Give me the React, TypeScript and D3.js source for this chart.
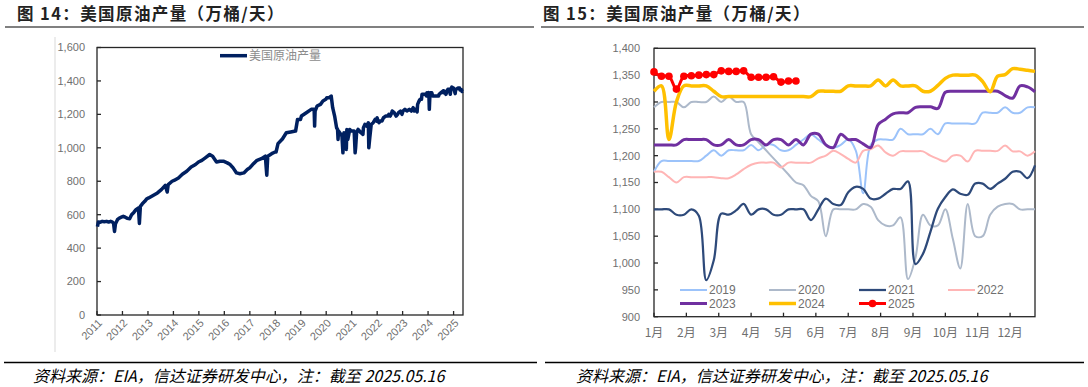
import React from 'react';
import * as d3 from 'd3';

// ---------- Left chart data (万桶/天) ----------
const prodDates = [
  '2011-01-07','2011-01-21','2011-02-18','2011-03-18','2011-04-15','2011-05-20','2011-06-17','2011-07-15','2011-08-12','2011-08-26','2011-09-09','2011-09-23','2011-10-21','2011-11-18','2011-12-16',
  '2012-01-13','2012-02-10','2012-03-09','2012-04-13','2012-05-11','2012-06-15','2012-07-13','2012-08-17','2012-08-31','2012-09-14','2012-10-12','2012-11-16','2012-12-14',
  '2013-01-11','2013-03-15','2013-05-17','2013-07-12','2013-09-06','2013-10-04','2013-10-18','2013-12-13',
  '2014-01-10','2014-03-14','2014-05-09','2014-07-11','2014-09-12','2014-11-14','2014-12-26',
  '2015-02-13','2015-04-03','2015-06-05','2015-07-17','2015-09-11','2015-10-30','2015-12-18',
  '2016-02-12','2016-03-25','2016-05-06','2016-06-24','2016-08-12','2016-10-07','2016-11-25','2016-12-30',
  '2017-02-10','2017-04-14','2017-06-16','2017-08-11','2017-09-01','2017-09-15','2017-11-10','2017-12-29',
  '2018-01-12','2018-02-09','2018-04-13','2018-06-08','2018-08-10','2018-10-19','2018-11-16','2018-12-28',
  '2019-01-11','2019-03-22','2019-05-31','2019-07-12','2019-07-19','2019-07-26','2019-08-23','2019-10-11','2019-11-15','2019-12-27',
  '2020-01-10','2020-02-14','2020-03-13','2020-04-03','2020-05-01','2020-05-29','2020-06-12','2020-06-19','2020-06-26','2020-08-14','2020-08-28','2020-09-11','2020-10-02','2020-10-16','2020-10-23','2020-11-06','2020-12-04','2020-12-25',
  '2021-01-08','2021-02-05','2021-02-19','2021-02-26','2021-03-12','2021-04-02','2021-05-14','2021-06-11','2021-06-18','2021-07-09','2021-08-06','2021-08-27','2021-09-03','2021-09-17','2021-10-08','2021-11-05','2021-12-03','2021-12-24','2021-12-31',
  '2022-01-07','2022-01-28','2022-02-11','2022-03-11','2022-04-01','2022-05-06','2022-06-03','2022-06-17','2022-07-08','2022-07-29','2022-08-05','2022-09-02','2022-09-30','2022-10-21','2022-11-04','2022-12-02','2022-12-23','2022-12-30',
  '2023-01-06','2023-02-03','2023-03-03','2023-04-07','2023-05-05','2023-06-02','2023-06-16','2023-07-07','2023-07-28','2023-08-04','2023-08-25','2023-09-08','2023-09-29','2023-10-06','2023-11-24','2023-12-08','2023-12-15','2023-12-29',
  '2024-01-05','2024-01-12','2024-01-19','2024-01-26','2024-02-02','2024-02-23','2024-03-08','2024-05-31','2024-06-07','2024-07-05','2024-08-02','2024-08-09','2024-08-16','2024-09-13','2024-10-04','2024-10-11','2024-11-01','2024-11-15','2024-11-22','2024-12-06','2024-12-27',
  '2025-01-03','2025-01-24','2025-01-31','2025-03-07','2025-03-28','2025-04-04','2025-04-25','2025-05-02','2025-05-16',
];
const prodValues = [
  528,556,555,560,558,560,556,560,555,550,500,545,570,580,585,
  590,585,578,576,600,615,630,640,548,650,665,680,695,
  700,715,730,750,775,736,780,800,
  805,820,842,860,885,900,915,
  925,940,960,950,915,920,920,
  910,900,880,850,845,850,870,880,
  900,925,935,950,836,950,965,975,
  975,1025,1053,1090,1095,1100,1170,1170,
  1190,1210,1230,1230,1130,1220,1250,1260,1280,1290,
  1300,1300,1310,1240,1190,1120,1110,1050,1100,1070,970,1090,1070,990,1110,1050,1110,1100,
  1100,1100,970,1000,1090,1110,1090,1080,1120,1140,1130,1150,1000,1060,1140,1150,1170,1160,1180,
  1170,1150,1160,1160,1180,1190,1190,1200,1190,1210,1220,1210,1190,1200,1210,1220,1200,1210,
  1220,1230,1220,1230,1220,1240,1220,1230,1215,1260,1280,1290,1290,1320,1320,1310,1330,1320,
  1320,1330,1230,1300,1330,1330,1310,1310,1320,1330,1340,1330,1340,1320,1345,1350,1350,1320,1348,1363,1358,
  1356,1324,1348,1358,1358,1346,1347,1337,1339,
];
const leftYTicks = [0, 200, 400, 600, 800, 1000, 1200, 1400, 1600];
const yearTicks = [2011, 2012, 2013, 2014, 2015, 2016, 2017, 2018, 2019, 2020, 2021, 2022, 2023, 2024, 2025];

// ---------- Right chart data (weekly, 万桶/天) ----------
const monthLabels = ['1月','2月','3月','4月','5月','6月','7月','8月','9月','10月','11月','12月'];
const rightYTicks = [900, 950, 1000, 1050, 1100, 1150, 1200, 1250, 1300, 1350, 1400];
const s2019 = [1170,1190,1190,1190,1190,1190,1190,1200,1210,1200, 1210,1210,1210,1220,1210,1220,1220,1210,1210,1220, 1230,1240,1230,1220,1215,1220,1230,1210,1130,1220, 1230,1230,1230,1250,1240,1240,1240,1250,1240,1260, 1260,1260,1260,1260,1280,1280,1280,1290,1280,1280, 1290,1290];
const s2020 = [1290,1300,1300,1300,1290,1300,1300,1300,1310,1300, 1310,1300,1300,1240,1225,1210,1195,1180,1165,1150, 1145,1125,1115,1050,1100,1100,1100,1100,1110,1105, 1080,1070,1070,1085,970,1010,1090,1070,1070,1100, 1045,990,1110,1050,1050,1090,1105,1110,1110,1100, 1100,1100];
const s2021 = [1100,1100,1100,1090,1090,1100,1088,968,1005,1092, 1090,1098,1110,1090,1100,1100,1090,1090,1100,1100, 1100,1080,1100,1120,1110,1108,1132,1142,1138,1120, 1120,1129,1138,1138,1152,998,1017,1058,1101,1123, 1137,1129,1127,1148,1148,1138,1148,1157,1170,1170, 1158,1182];
const s2022 = [1170,1170,1160,1150,1160,1160,1160,1160,1160,1158, 1158,1165,1175,1183,1187,1187,1187,1178,1187,1187, 1187,1187,1195,1200,1209,1203,1194,1187,1209,1212, 1219,1206,1200,1208,1208,1208,1208,1200,1194,1189, 1200,1200,1189,1209,1209,1209,1209,1219,1208,1208, 1200,1208];
const s2023 = [1220,1220,1220,1220,1230,1230,1230,1230,1220,1220, 1230,1220,1220,1230,1230,1220,1230,1230,1220,1230, 1220,1240,1240,1220,1215,1240,1230,1230,1222,1215, 1258,1268,1278,1280,1280,1290,1291,1291,1288,1318, 1320,1320,1320,1320,1320,1320,1320,1312,1307,1330, 1328,1319];
const s2024 = [1320,1330,1230,1300,1330,1330,1330,1330,1320,1310, 1310,1310,1310,1310,1310,1310,1310,1310,1310,1310, 1310,1310,1320,1320,1320,1320,1330,1330,1330,1330, 1341,1330,1341,1330,1330,1330,1320,1320,1331,1344, 1350,1350,1350,1350,1338,1319,1348,1351,1362,1361, 1359,1357];
const s2025 = [1356,1348,1348,1324,1348,1349,1350,1351,1351,1358, 1357,1357,1358,1346,1346,1346,1347,1337,1339,1339];

const seriesNames = ['2019','2020','2021','2022','2023','2024','2025'];
const seriesData = [s2019, s2020, s2021, s2022, s2023, s2024, s2025];
const seriesColors = ['#9CC3FA','#ADB9CA','#2E4A7A','#FFB5B5','#7030A0','#FFC000','#FF0000'];
const seriesWidths = [2, 2, 2.25, 2, 3, 3.5, 3];

const NUM_FONT = '"Liberation Sans", Arial, sans-serif';
const CJK_FONT = '"Noto Sans CJK SC", "Liberation Sans", sans-serif';
const LABEL = '#6f6f6f';

export default function App() {
  const fmt = d3.format(',');

  // left chart scales
  const lx = d3.scaleTime().domain([new Date(2011, 0, 1), new Date(2025, 4, 16)]).range([97, 463]);
  const ly = d3.scaleLinear().domain([0, 1600]).range([315, 47.5]);
  const leftPts = prodDates.map((d, i) => [new Date(d + 'T00:00:00'), prodValues[i]] as [Date, number]);
  const leftLine = d3.line<[Date, number]>().x(d => lx(d[0])).y(d => ly(d[1])).curve(d3.curveLinear);

  // right chart scales
  const rx = d3.scaleLinear().domain([1, 52]).range([654, 1035]);
  const ry = d3.scaleLinear().domain([900, 1400]).range([316.7, 48.3]);
  const rLine = d3.line<number>().x((d, i) => rx(i + 1)).y(d => ry(d)).curve(d3.curveCatmullRom.alpha(0.5));
  const monthPos = monthLabels.map((_, m) => 1 + (m * 52) / 12);

  const legendCols = [680, 769, 859, 948];
  const legendRows = [290, 303.5];

  return (
    <svg width={1088} height={387} style={{ position: 'absolute', left: 0, top: 0, background: '#fff' }}>
      <rect x={0} y={0} width={1088} height={387} fill="#fff" />
      {/* titles */}
      <text x={17} y={20} fontFamily={CJK_FONT} fontWeight="bold" fontSize={16.5} fill="#222" letterSpacing={1.4}>图 14：美国原油产量（万桶/天）</text>
      <text x={543} y={20} fontFamily={CJK_FONT} fontWeight="bold" fontSize={16.5} fill="#222" letterSpacing={1.4}>图 15：美国原油产量（万桶/天）</text>
      <line x1={5} x2={534} y1={27} y2={27} stroke="#808080" strokeWidth={2} />
      <line x1={541} x2={1084} y1={27} y2={27} stroke="#808080" strokeWidth={2} />

      {/* ---------- left chart ---------- */}
      <line x1={55} x2={55} y1={37} y2={352} stroke="#d9d9d9" strokeWidth={1} />
      <rect x={97} y={47.5} width={366} height={267.5} fill="none" stroke="#262626" strokeWidth={1.3} />
      {leftYTicks.map(t => (
        <g key={'ly' + t}>
          <line x1={97} x2={101} y1={ly(t)} y2={ly(t)} stroke="#262626" strokeWidth={1.3} />
          <text x={85} y={ly(t)} dy="0.35em" textAnchor="end" fontFamily={NUM_FONT} fontSize={11} fill={LABEL}>{fmt(t)}</text>
        </g>
      ))}
      {yearTicks.map(yr => {
        const x = lx(new Date(yr, 0, 1));
        return (
          <g key={'yr' + yr}>
            <line x1={x} x2={x} y1={315} y2={311} stroke="#262626" strokeWidth={1.3} />
            <text transform={`translate(${x + 3},${321}) rotate(-45)`} textAnchor="end" dy="0.35em" fontFamily={NUM_FONT} fontSize={11} fill={LABEL}>{yr}</text>
          </g>
        );
      })}
      <path d={leftLine(leftPts) || ''} fill="none" stroke="#002060" strokeWidth={3.5} strokeLinejoin="round" />
      <line x1={220} x2={247} y1={55.7} y2={55.7} stroke="#002060" strokeWidth={3.5} />
      <text x={249} y={55.7} dy="0.35em" fontFamily={CJK_FONT} fontSize={12} fill="#8c8c8c">美国原油产量</text>

      {/* ---------- right chart ---------- */}
      <rect x={654} y={48.3} width={381} height={268.4} fill="none" stroke="#262626" strokeWidth={1.3} />
      {rightYTicks.map(t => (
        <g key={'ry' + t}>
          <line x1={654} x2={658} y1={ry(t)} y2={ry(t)} stroke="#262626" strokeWidth={1.3} />
          <text x={640} y={ry(t)} dy="0.35em" textAnchor="end" fontFamily={NUM_FONT} fontSize={11} fill={LABEL}>{fmt(t)}</text>
        </g>
      ))}
      {monthPos.map((w, m) => (
        <g key={'m' + m}>
          <line x1={rx(w)} x2={rx(w)} y1={316.7} y2={312.7} stroke="#262626" strokeWidth={1.3} />
          <text x={rx(w)} y={333} dy="0.35em" textAnchor="middle" fontFamily={CJK_FONT} fontSize={12} fill={LABEL}>{monthLabels[m]}</text>
        </g>
      ))}
      {seriesData.map((s, i) => (
        <path key={'s' + i} d={rLine(s) || ''} fill="none" stroke={seriesColors[i]} strokeWidth={seriesWidths[i]} strokeLinejoin="round" />
      ))}
      {s2025.map((v, i) => (
        <circle key={'c' + i} cx={rx(i + 1)} cy={ry(v)} r={3.8} fill="#FF0000" />
      ))}
      {/* legend */}
      {seriesNames.map((name, i) => {
        const cx = legendCols[i % 4];
        const cy = legendRows[Math.floor(i / 4)];
        return (
          <g key={'lg' + i}>
            <line x1={cx} x2={cx + 27} y1={cy} y2={cy} stroke={seriesColors[i]} strokeWidth={seriesWidths[i]} />
            {name === '2025' && <circle cx={cx + 13.5} cy={cy} r={3.8} fill="#FF0000" />}
            <text x={cx + 29} y={cy} dy="0.35em" fontFamily={NUM_FONT} fontSize={12} fill={LABEL}>{name}</text>
          </g>
        );
      })}

      {/* sources */}
      <line x1={4} x2={537} y1={362.5} y2={362.5} stroke="#000" strokeWidth={1.3} />
      <line x1={545} x2={1084} y1={362.5} y2={362.5} stroke="#000" strokeWidth={1.3} />
      <text x={33} y={381.5} fontFamily={CJK_FONT} fontStyle="italic" fontSize={16} fill="#000">资料来源：EIA，信达证券研发中心，注：截至 2025.05.16</text>
      <text x={576} y={381.5} fontFamily={CJK_FONT} fontStyle="italic" fontSize={16} fill="#000">资料来源：EIA，信达证券研发中心，注：截至 2025.05.16</text>
    </svg>
  );
}
